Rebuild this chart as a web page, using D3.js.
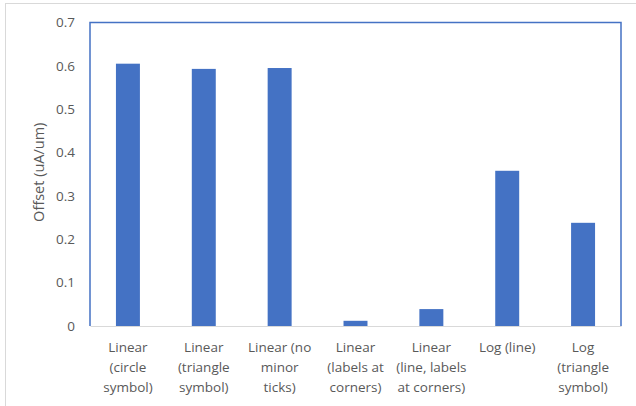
<!DOCTYPE html>
<html>
<head>
<meta charset="utf-8">
<script src="https://cdn.jsdelivr.net/npm/d3@7"></script>
<style>
  html, body { margin: 0; padding: 0; background: #fff; }
  svg { display: block; }
  text { font-family: "Open Sans", "Noto Sans", sans-serif; fill: #595959; }
</style>
</head>
<body>
<svg id="chart" width="636" height="406"></svg>
<script>
// Offset per test case
const categories = [
  ["Linear", "(circle", "symbol)"],
  ["Linear", "(triangle", "symbol)"],
  ["Linear (no", "minor", "ticks)"],
  ["Linear", "(labels at", "corners)"],
  ["Linear", "(line, labels", "at corners)"],
  ["Log (line)"],
  ["Log", "(triangle", "symbol)"]
];
const offsets = [0.605, 0.593, 0.595, 0.012, 0.039, 0.358, 0.238];
const yTicks = [0, 0.1, 0.2, 0.3, 0.4, 0.5, 0.6, 0.7];
const yTitle = "Offset (uA/um)";

const svg = d3.select("#chart");
const plot = { left: 90, top: 22.5, right: 621, bottom: 326 };

// Chart frame
svg.append("rect")
  .attr("x", 5.5).attr("y", 3.5)
  .attr("width", 640).attr("height", 420)
  .attr("fill", "#fff").attr("stroke", "#d9d9d9").attr("stroke-width", 1);

const keys = categories.map((c, i) => i);
const x = d3.scaleBand().domain(keys).range([plot.left, plot.right]).paddingInner(0.684).paddingOuter(0.342);
const y = d3.scaleLinear().domain([0, 0.7]).range([plot.bottom, plot.top]);

// Bars
svg.append("g").selectAll("rect")
  .data(offsets)
  .join("rect")
  .attr("x", (d, i) => x(i))
  .attr("width", x.bandwidth())
  .attr("y", d => y(d))
  .attr("height", d => y(0) - y(d))
  .attr("fill", "#4472c4");

// Y axis labels
const yAxis = svg.append("g")
  .attr("transform", `translate(${plot.left},0)`)
  .call(d3.axisLeft(y).tickValues(yTicks).tickSize(0).tickPadding(15).tickFormat(d => d === 0 ? "0" : d3.format(".1f")(d)));
yAxis.select(".domain").remove();
yAxis.selectAll("text").attr("font-size", 13.5).attr("fill", "#595959")
  .style("font-family", '"Open Sans", sans-serif');

// X axis with wrapped category labels
const xAxis = svg.append("g")
  .attr("transform", `translate(0,${plot.bottom})`)
  .call(d3.axisBottom(x).tickSize(0).tickFormat(""));
xAxis.select(".domain").attr("stroke", "#d9d9d9").attr("stroke-width", 1.2);
xAxis.selectAll(".tick").each(function (d) {
  const t = d3.select(this).append("text")
    .attr("text-anchor", "middle")
    .attr("font-size", 13.5)
    .attr("fill", "#595959");
  categories[d].forEach((line, j) => {
    t.append("tspan").attr("x", 0).attr("y", 26 + j * 20).text(line);
  });
});

// Plot-area outline (left, top, right)
svg.append("path")
  .attr("d", `M${plot.left},${plot.bottom}V${plot.top}H${plot.right}V${plot.bottom}`)
  .attr("fill", "none").attr("stroke", "#4472c4").attr("stroke-width", 1.5);

// Y axis title
svg.append("text")
  .attr("transform", `translate(44,${(plot.top + plot.bottom) / 2 - 2}) rotate(-90)`)
  .attr("text-anchor", "middle")
  .attr("font-size", 14.5)
  .attr("fill", "#595959")
  .text(yTitle);
</script>
</body>
</html>
